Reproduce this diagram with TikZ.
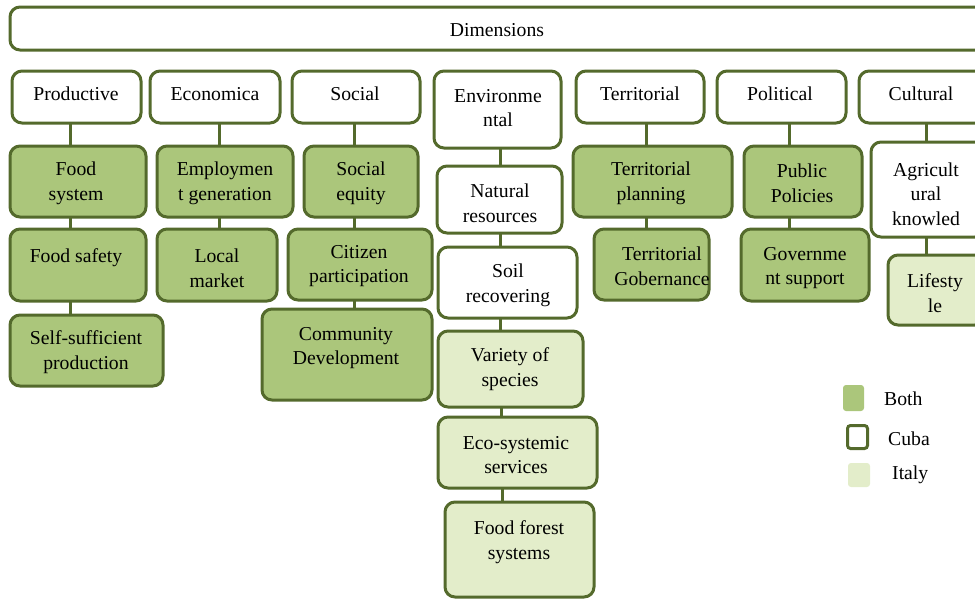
\documentclass[tikz,border=0pt]{standalone}
\usepackage{fontspec}
\setmainfont{Liberation Serif}
\definecolor{edge}{HTML}{546A2C}
\definecolor{both}{HTML}{ABC67B}
\definecolor{italy}{HTML}{E3EDCA}
\tikzset{
  box/.style={draw=edge, line width=3pt, rounded corners=10pt, inner sep=0pt, outer sep=0pt, fill=white},
  cuba/.style={fill=white},
  bothc/.style={fill=both},
  italyc/.style={fill=italy},
  lbl/.style={align=center, inner sep=0pt, yshift=-2pt, font=\fontsize{19.7}{24.7}\selectfont, text=black},
  link/.style={draw=edge, line width=3pt},
}
% \gbox{name}{x1}{y1}{x2}{y2}{style}
\newcommand\gbox[6]{%
  \node[box,#6,minimum width={#4-#2},minimum height={#5-#3}] (#1) at ({(#2+#4)/2},{(#3+#5)/2}) {};}
% \glink{parent}{child}{x}
\newcommand\glink[3]{\draw[link] (#1.south -| #3,0) -- (#2.north -| #3,0);}
\begin{document}
\begin{tikzpicture}[x=1pt,y=-1pt]
\useasboundingbox (0,0) rectangle (975,598);
\clip (0,0) rectangle (975,598);

% header row
\gbox{title}{10}{7}{995}{50}{cuba}
\gbox{prod}{12}{71}{141}{123}{cuba}
\gbox{econ}{150}{71}{280}{123}{cuba}
\gbox{soc}{292}{71}{420}{123}{cuba}
\gbox{env}{434}{71}{561}{148}{cuba}
\gbox{terr}{576}{71}{704}{123}{cuba}
\gbox{pol}{717}{71}{846}{123}{cuba}
\gbox{cult}{859}{71}{995}{123}{cuba}

% first level
\gbox{foodsys}{10}{146}{146}{217}{bothc}
\gbox{employ}{157}{146}{293}{217}{bothc}
\gbox{soceq}{304}{146}{418}{217}{bothc}
\gbox{natres}{437}{166}{562}{233}{cuba}
\gbox{terrplan}{573}{146}{732}{217}{bothc}
\gbox{pubpol}{744}{146}{862}{217}{bothc}
\gbox{agri}{871}{142}{985}{237}{cuba}

% second level
\gbox{foodsafe}{10}{229}{146}{301}{bothc}
\gbox{locmkt}{157}{229}{277}{301}{bothc}
\gbox{citizen}{288}{229}{432}{300}{bothc}
\gbox{soil}{438}{247}{577}{318}{cuba}
\gbox{terrgob}{594}{229}{709}{300}{bothc}
\gbox{gov}{741}{229}{869}{301}{bothc}
\gbox{life}{888}{255}{985}{325}{italyc}

% third level and below
\gbox{selfsuf}{10}{315}{163}{386}{bothc}
\gbox{commdev}{262}{309}{432}{400}{bothc}
\gbox{variety}{438}{331}{583}{407}{italyc}
\gbox{eco}{438}{417}{597}{488}{italyc}
\gbox{forest}{445}{502}{594}{597}{italyc}

% connectors
\glink{prod}{foodsys}{70}
\glink{foodsys}{foodsafe}{70}
\glink{foodsafe}{selfsuf}{70}
\glink{econ}{employ}{219}
\glink{employ}{locmkt}{219}
\glink{soc}{soceq}{354}
\glink{soceq}{citizen}{354}
\glink{citizen}{commdev}{354}
\glink{env}{natres}{500}
\glink{natres}{soil}{500}
\glink{soil}{variety}{500}
\glink{variety}{eco}{501}
\glink{eco}{forest}{502}
\glink{terr}{terrplan}{646}
\glink{terrplan}{terrgob}{646}
\glink{pol}{pubpol}{789}
\glink{pubpol}{gov}{789}
\glink{cult}{agri}{926}
\glink{agri}{life}{926}

% labels
\node[lbl] (t-title) at (497,28) {Dimensions};
\node[lbl] (t-prod) at (76,92) {Productive};
\node[lbl] (t-econ) at (215,92) {Economica};
\node[lbl] (t-soc) at (355,92) {Social};
\node[lbl] (t-env) at (498,106) {Environme\\ntal};
\node[lbl] (t-terr) at (640,92) {Territorial};
\node[lbl] (t-pol) at (780,92) {Political};
\node[lbl] (t-cult) at (921,92) {Cultural};

\node[lbl] (t-foodsys) at (76,181) {Food\\system};
\node[lbl] (t-employ) at (225,181) {Employmen\\t generation};
\node[lbl] (t-soceq) at (361,181) {Social\\equity};
\node[lbl] (t-natres) at (500,201) {Natural\\resources};
\node[lbl] (t-terrplan) at (651,181) {Territorial\\planning};
\node[lbl] (t-pubpol) at (802,181) {Public\\Policies};
\node[lbl] (t-agri) at (926,192) {Agricult\\ural\\knowled};

\node[lbl] (t-foodsafe) at (76,256) {Food safety};
\node[lbl] (t-locmkt) at (217,266) {Local\\market};
\node[lbl] (t-citizen) at (359,264) {Citizen\\participation};
\node[lbl] (t-soil) at (508,283) {Soil\\recovering};
\node[lbl] (t-terrgob) at (662,264) {Territorial\\Gobernance};
\node[lbl] (t-gov) at (805,266) {Governme\\nt support};
\node[lbl] (t-life) at (935,291) {Lifesty\\le};

\node[lbl] (t-selfsuf) at (86,350) {Self-sufficient\\production};
\node[lbl] (t-commdev) at (346,346) {Community\\Development};
\node[lbl] (t-variety) at (510,367) {Variety of\\species};
\node[lbl] (t-eco) at (516,453) {Eco-systemic\\services};
\node[lbl] (t-forest) at (519,540) {Food forest\\systems};

% legend
\node[fill=both, rounded corners=3pt, minimum width=21pt, minimum height=26pt, inner sep=0pt] (k-both) at (853.5,398) {};
\node[draw=edge, line width=3pt, fill=white, rounded corners=3pt, minimum width=20pt, minimum height=23pt, inner sep=0pt] (k-cuba) at (857.5,437) {};
\node[fill=italy, rounded corners=3pt, minimum width=22pt, minimum height=24pt, inner sep=0pt] (k-italy) at (859,475) {};
\node[lbl, anchor=west] (l-both) at (884,397) {Both};
\node[lbl, anchor=west] (l-cuba) at (888,437) {Cuba};
\node[lbl, anchor=west] (l-italy) at (892,473) {Italy};
\end{tikzpicture}
\end{document}
